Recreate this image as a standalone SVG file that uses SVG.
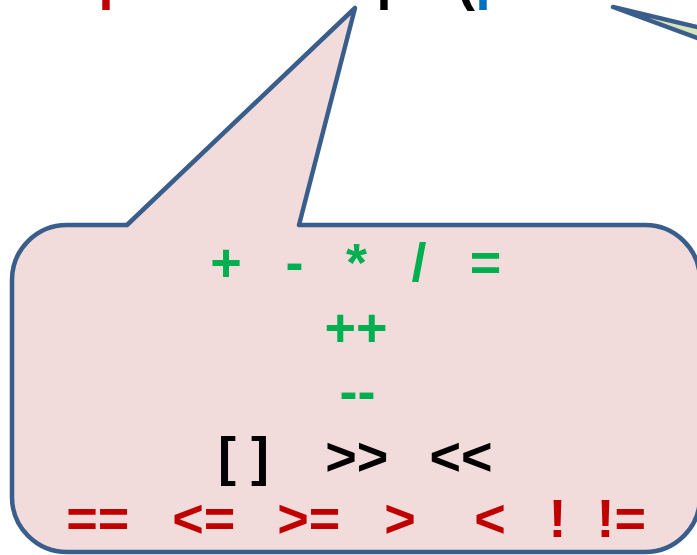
<svg xmlns="http://www.w3.org/2000/svg" width="697" height="555" viewBox="0 0 697 555">
<style>
  .t { font-family: "Liberation Sans", Arial, sans-serif; font-weight: bold; font-size: 54px; text-anchor: middle; }
  .g { fill: #00B050; }
  .r { fill: #C00000; }
  .k { fill: #000000; }
  .b { fill: #0070C0; }
  .bubble { fill: #F2DCDB; stroke: #3A5E8C; stroke-width: 4.5; stroke-linejoin: round; }
  .bubble2 { fill: #D8E4BC; stroke: #3A5E8C; stroke-width: 4.5; stroke-linejoin: round; stroke-linecap: round; }
</style>
<rect width="697" height="555" fill="#FFFFFF"/>
<g id="top-text">
  <text class="t r" x="98.5" y="-1.5" style="text-anchor:start">p</text>
  <text class="t k" x="376.5" y="-1.5" style="text-anchor:start">p</text>
  <text class="t k" x="457" y="0" style="text-anchor:start">(</text>
  <text class="t b" x="475.5" y="-1.5" style="text-anchor:start">p</text>
</g>
<g id="callout-right">
  <path class="bubble2" d="M 760,42 L 613,7 L 760,61"/>
</g>
<g id="callout-operators">
  <path class="bubble" d="M 67,225 L 127,225 L 355,8 L 299,225 L 645,225 A 55 55 0 0 1 700,280 L 700,497 A 55 55 0 0 1 645,552 L 67,552 A 55 55 0 0 1 12,497 L 12,280 A 55 55 0 0 1 67,225 Z"/>
  <g id="row1">
    <text class="t g" x="226" y="281">+</text>
    <text class="t g" x="294.5" y="281">-</text>
    <text class="t g" x="356.5" y="281">*</text>
    <text class="t g" x="419" y="281">/</text>
    <text class="t g" x="485.5" y="281">=</text>
  </g>
  <g id="row2">
    <text class="t g" x="356" y="345.5">++</text>
  </g>
  <g id="row3">
    <text class="t g" x="357.5" y="410">--</text>
  </g>
  <g id="row4">
    <text class="t k" x="243.5" y="474.5">[ ]</text>
    <text class="t k" x="356.8" y="474.5">&gt;&gt;</text>
    <text class="t k" x="461" y="474.5">&lt;&lt;</text>
  </g>
  <g id="row5">
    <text class="t r" x="97.8" y="537">==</text>
    <text class="t r" x="203.8" y="537">&lt;=</text>
    <text class="t r" x="308.8" y="537">&gt;=</text>
    <text class="t r" x="400" y="537">&gt;</text>
    <text class="t r" x="490" y="537">&lt;</text>
    <text class="t r" x="557.5" y="537">!</text>
    <text class="t r" x="621.3" y="537">!=</text>
  </g>
</g>
</svg>
